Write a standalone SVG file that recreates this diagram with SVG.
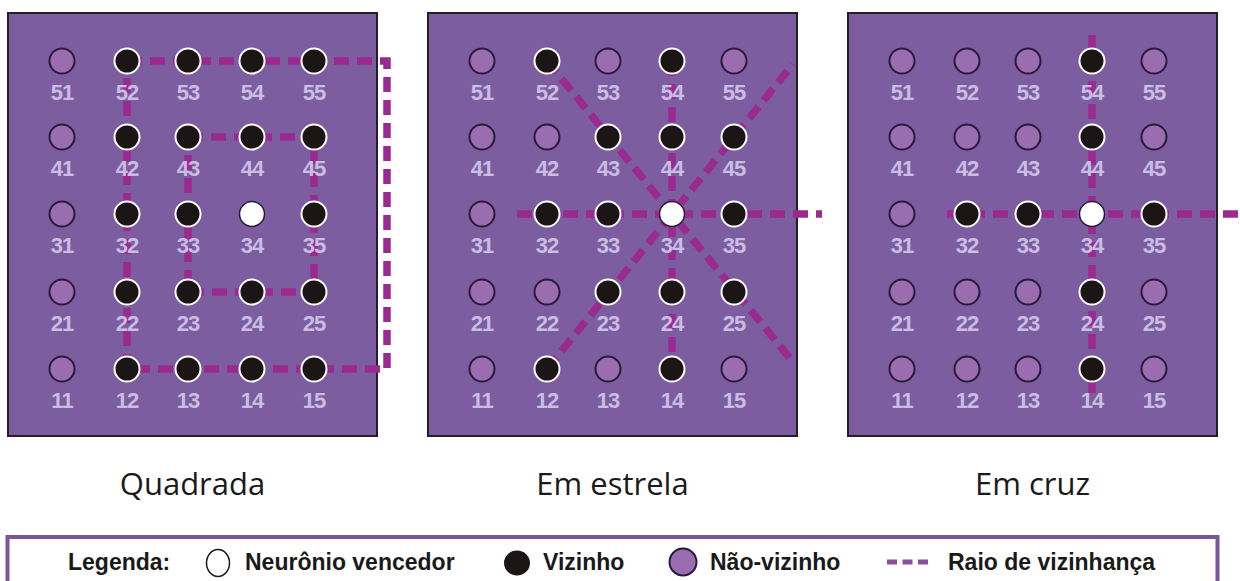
<svg xmlns="http://www.w3.org/2000/svg" width="1240" height="581" viewBox="0 0 1240 581">
<style>
.panel{fill:#7c5d9f;stroke:#231f24;stroke-width:2}
.nb{fill:#1b1515;stroke:#ffffff;stroke-width:2}
.nn{fill:#9a6cb0;stroke:#2a1a3a;stroke-width:2}
.nw{fill:#ffffff;stroke:#2a1a3a;stroke-width:1.5}
.lbl{font-family:"Liberation Sans",Arial,sans-serif;font-weight:bold;font-size:22px;fill:#c9bde4;text-anchor:middle;letter-spacing:-1px}
.dash{fill:none;stroke:#9b2a90;stroke-width:7.5;stroke-dasharray:15 8}
.title{font-family:"Open Sans",sans-serif;font-size:31px;fill:#1a1a1a;text-anchor:middle}
.leg{font-family:"Liberation Sans",Arial,sans-serif;font-weight:bold;font-size:23px;fill:#1a1a1a}
</style>
<rect width="1240" height="581" fill="#ffffff"/>
<g id="panels">
<rect class="panel" x="8" y="13" width="369" height="423"/>
<rect class="panel" x="428" y="13" width="369" height="423"/>
<rect class="panel" x="848" y="13" width="369" height="423"/>
</g>
<g id="connectors">
<path class="dash" d="M127 61 H387 V369 H127 Z"/>
<path class="dash" d="M188 137 H314 V292 H188 Z"/>
<path class="dash" d="M517 214 H822"/>
<path class="dash" d="M672 61 V369"/>
<path class="dash" d="M547 61 L793 362"/>
<path class="dash" d="M547 369 L793 64"/>
<path class="dash" d="M947 214 H1240"/>
<path class="dash" d="M1092 35 V393"/>
</g>
<g id="panel-quadrada">
<g id="q51"><circle class="nn" cx="62" cy="61" r="12.5"/><text class="lbl" x="62" y="100">51</text></g>
<g id="q52"><circle class="nb" cx="127" cy="61" r="12.5"/><text class="lbl" x="127" y="100">52</text></g>
<g id="q53"><circle class="nb" cx="188" cy="61" r="12.5"/><text class="lbl" x="188" y="100">53</text></g>
<g id="q54"><circle class="nb" cx="252" cy="61" r="12.5"/><text class="lbl" x="252" y="100">54</text></g>
<g id="q55"><circle class="nb" cx="314" cy="61" r="12.5"/><text class="lbl" x="314" y="100">55</text></g>
<g id="q41"><circle class="nn" cx="62" cy="137" r="12.5"/><text class="lbl" x="62" y="176">41</text></g>
<g id="q42"><circle class="nb" cx="127" cy="137" r="12.5"/><text class="lbl" x="127" y="176">42</text></g>
<g id="q43"><circle class="nb" cx="188" cy="137" r="12.5"/><text class="lbl" x="188" y="176">43</text></g>
<g id="q44"><circle class="nb" cx="252" cy="137" r="12.5"/><text class="lbl" x="252" y="176">44</text></g>
<g id="q45"><circle class="nb" cx="314" cy="137" r="12.5"/><text class="lbl" x="314" y="176">45</text></g>
<g id="q31"><circle class="nn" cx="62" cy="214" r="12.5"/><text class="lbl" x="62" y="253">31</text></g>
<g id="q32"><circle class="nb" cx="127" cy="214" r="12.5"/><text class="lbl" x="127" y="253">32</text></g>
<g id="q33"><circle class="nb" cx="188" cy="214" r="12.5"/><text class="lbl" x="188" y="253">33</text></g>
<g id="q34"><circle class="nw" cx="252" cy="214" r="12.5"/><text class="lbl" x="252" y="253">34</text></g>
<g id="q35"><circle class="nb" cx="314" cy="214" r="12.5"/><text class="lbl" x="314" y="253">35</text></g>
<g id="q21"><circle class="nn" cx="62" cy="292" r="12.5"/><text class="lbl" x="62" y="331">21</text></g>
<g id="q22"><circle class="nb" cx="127" cy="292" r="12.5"/><text class="lbl" x="127" y="331">22</text></g>
<g id="q23"><circle class="nb" cx="188" cy="292" r="12.5"/><text class="lbl" x="188" y="331">23</text></g>
<g id="q24"><circle class="nb" cx="252" cy="292" r="12.5"/><text class="lbl" x="252" y="331">24</text></g>
<g id="q25"><circle class="nb" cx="314" cy="292" r="12.5"/><text class="lbl" x="314" y="331">25</text></g>
<g id="q11"><circle class="nn" cx="62" cy="369" r="12.5"/><text class="lbl" x="62" y="408">11</text></g>
<g id="q12"><circle class="nb" cx="127" cy="369" r="12.5"/><text class="lbl" x="127" y="408">12</text></g>
<g id="q13"><circle class="nb" cx="188" cy="369" r="12.5"/><text class="lbl" x="188" y="408">13</text></g>
<g id="q14"><circle class="nb" cx="252" cy="369" r="12.5"/><text class="lbl" x="252" y="408">14</text></g>
<g id="q15"><circle class="nb" cx="314" cy="369" r="12.5"/><text class="lbl" x="314" y="408">15</text></g>
</g>
<g id="panel-estrela">
<g id="e51"><circle class="nn" cx="482" cy="61" r="12.5"/><text class="lbl" x="482" y="100">51</text></g>
<g id="e52"><circle class="nb" cx="547" cy="61" r="12.5"/><text class="lbl" x="547" y="100">52</text></g>
<g id="e53"><circle class="nn" cx="608" cy="61" r="12.5"/><text class="lbl" x="608" y="100">53</text></g>
<g id="e54"><circle class="nb" cx="672" cy="61" r="12.5"/><text class="lbl" x="672" y="100">54</text></g>
<g id="e55"><circle class="nn" cx="734" cy="61" r="12.5"/><text class="lbl" x="734" y="100">55</text></g>
<g id="e41"><circle class="nn" cx="482" cy="137" r="12.5"/><text class="lbl" x="482" y="176">41</text></g>
<g id="e42"><circle class="nn" cx="547" cy="137" r="12.5"/><text class="lbl" x="547" y="176">42</text></g>
<g id="e43"><circle class="nb" cx="608" cy="137" r="12.5"/><text class="lbl" x="608" y="176">43</text></g>
<g id="e44"><circle class="nb" cx="672" cy="137" r="12.5"/><text class="lbl" x="672" y="176">44</text></g>
<g id="e45"><circle class="nb" cx="734" cy="137" r="12.5"/><text class="lbl" x="734" y="176">45</text></g>
<g id="e31"><circle class="nn" cx="482" cy="214" r="12.5"/><text class="lbl" x="482" y="253">31</text></g>
<g id="e32"><circle class="nb" cx="547" cy="214" r="12.5"/><text class="lbl" x="547" y="253">32</text></g>
<g id="e33"><circle class="nb" cx="608" cy="214" r="12.5"/><text class="lbl" x="608" y="253">33</text></g>
<g id="e34"><circle class="nw" cx="672" cy="214" r="12.5"/><text class="lbl" x="672" y="253">34</text></g>
<g id="e35"><circle class="nb" cx="734" cy="214" r="12.5"/><text class="lbl" x="734" y="253">35</text></g>
<g id="e21"><circle class="nn" cx="482" cy="292" r="12.5"/><text class="lbl" x="482" y="331">21</text></g>
<g id="e22"><circle class="nn" cx="547" cy="292" r="12.5"/><text class="lbl" x="547" y="331">22</text></g>
<g id="e23"><circle class="nb" cx="608" cy="292" r="12.5"/><text class="lbl" x="608" y="331">23</text></g>
<g id="e24"><circle class="nb" cx="672" cy="292" r="12.5"/><text class="lbl" x="672" y="331">24</text></g>
<g id="e25"><circle class="nb" cx="734" cy="292" r="12.5"/><text class="lbl" x="734" y="331">25</text></g>
<g id="e11"><circle class="nn" cx="482" cy="369" r="12.5"/><text class="lbl" x="482" y="408">11</text></g>
<g id="e12"><circle class="nb" cx="547" cy="369" r="12.5"/><text class="lbl" x="547" y="408">12</text></g>
<g id="e13"><circle class="nn" cx="608" cy="369" r="12.5"/><text class="lbl" x="608" y="408">13</text></g>
<g id="e14"><circle class="nb" cx="672" cy="369" r="12.5"/><text class="lbl" x="672" y="408">14</text></g>
<g id="e15"><circle class="nn" cx="734" cy="369" r="12.5"/><text class="lbl" x="734" y="408">15</text></g>
</g>
<g id="panel-cruz">
<g id="c51"><circle class="nn" cx="902" cy="61" r="12.5"/><text class="lbl" x="902" y="100">51</text></g>
<g id="c52"><circle class="nn" cx="967" cy="61" r="12.5"/><text class="lbl" x="967" y="100">52</text></g>
<g id="c53"><circle class="nn" cx="1028" cy="61" r="12.5"/><text class="lbl" x="1028" y="100">53</text></g>
<g id="c54"><circle class="nb" cx="1092" cy="61" r="12.5"/><text class="lbl" x="1092" y="100">54</text></g>
<g id="c55"><circle class="nn" cx="1154" cy="61" r="12.5"/><text class="lbl" x="1154" y="100">55</text></g>
<g id="c41"><circle class="nn" cx="902" cy="137" r="12.5"/><text class="lbl" x="902" y="176">41</text></g>
<g id="c42"><circle class="nn" cx="967" cy="137" r="12.5"/><text class="lbl" x="967" y="176">42</text></g>
<g id="c43"><circle class="nn" cx="1028" cy="137" r="12.5"/><text class="lbl" x="1028" y="176">43</text></g>
<g id="c44"><circle class="nb" cx="1092" cy="137" r="12.5"/><text class="lbl" x="1092" y="176">44</text></g>
<g id="c45"><circle class="nn" cx="1154" cy="137" r="12.5"/><text class="lbl" x="1154" y="176">45</text></g>
<g id="c31"><circle class="nn" cx="902" cy="214" r="12.5"/><text class="lbl" x="902" y="253">31</text></g>
<g id="c32"><circle class="nb" cx="967" cy="214" r="12.5"/><text class="lbl" x="967" y="253">32</text></g>
<g id="c33"><circle class="nb" cx="1028" cy="214" r="12.5"/><text class="lbl" x="1028" y="253">33</text></g>
<g id="c34"><circle class="nw" cx="1092" cy="214" r="12.5"/><text class="lbl" x="1092" y="253">34</text></g>
<g id="c35"><circle class="nb" cx="1154" cy="214" r="12.5"/><text class="lbl" x="1154" y="253">35</text></g>
<g id="c21"><circle class="nn" cx="902" cy="292" r="12.5"/><text class="lbl" x="902" y="331">21</text></g>
<g id="c22"><circle class="nn" cx="967" cy="292" r="12.5"/><text class="lbl" x="967" y="331">22</text></g>
<g id="c23"><circle class="nn" cx="1028" cy="292" r="12.5"/><text class="lbl" x="1028" y="331">23</text></g>
<g id="c24"><circle class="nb" cx="1092" cy="292" r="12.5"/><text class="lbl" x="1092" y="331">24</text></g>
<g id="c25"><circle class="nn" cx="1154" cy="292" r="12.5"/><text class="lbl" x="1154" y="331">25</text></g>
<g id="c11"><circle class="nn" cx="902" cy="369" r="12.5"/><text class="lbl" x="902" y="408">11</text></g>
<g id="c12"><circle class="nn" cx="967" cy="369" r="12.5"/><text class="lbl" x="967" y="408">12</text></g>
<g id="c13"><circle class="nn" cx="1028" cy="369" r="12.5"/><text class="lbl" x="1028" y="408">13</text></g>
<g id="c14"><circle class="nb" cx="1092" cy="369" r="12.5"/><text class="lbl" x="1092" y="408">14</text></g>
<g id="c15"><circle class="nn" cx="1154" cy="369" r="12.5"/><text class="lbl" x="1154" y="408">15</text></g>
</g>
<g id="titles">
<text class="title" x="192.5" y="495">Quadrada</text>
<text class="title" x="612.5" y="495">Em estrela</text>
<text class="title" x="1032.5" y="495">Em cruz</text>
</g>
<g id="legend">
<rect x="7.5" y="537" width="1210" height="70" fill="#ffffff" stroke="#7a559c" stroke-width="4"/>
<text class="leg" x="68" y="570">Legenda:</text>
<ellipse cx="218" cy="563" rx="11.5" ry="13.5" fill="#ffffff" stroke="#1a1a1a" stroke-width="1.5"/>
<text class="leg" x="245" y="570">Neurônio vencedor</text>
<ellipse cx="517" cy="563" rx="13" ry="12.5" fill="#1b1515"/>
<text class="leg" x="543" y="570">Vizinho</text>
<ellipse cx="683" cy="562" rx="13.5" ry="13.5" fill="#9a6cb0" stroke="#2a1a3a" stroke-width="2"/>
<text class="leg" x="710" y="570">Não-vizinho</text>
<line x1="887" y1="562" x2="928" y2="562" stroke="#8b4f9e" stroke-width="5" stroke-dasharray="10 5.5"/>
<text class="leg" x="948" y="570">Raio de vizinhança</text>
</g>
</svg>
